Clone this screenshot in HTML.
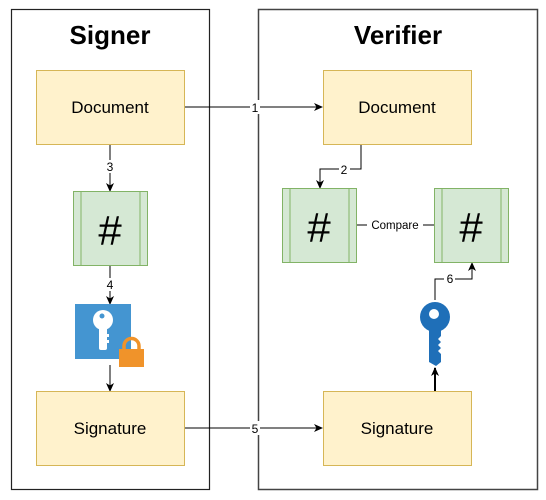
<!DOCTYPE html>
<html><head><style>
html,body{margin:0;padding:0;background:#fff;}
svg{display:block;font-family:"Liberation Sans",Arial,sans-serif;}
</style></head><body>
<svg width="546" height="500" viewBox="0 0 546 500" xmlns="http://www.w3.org/2000/svg">
<defs>
<marker id="a" markerWidth="10" markerHeight="10" refX="8" refY="5" orient="auto" markerUnits="userSpaceOnUse">
<path d="M0,1 L9,5 L0,9 L2.5,5 Z" fill="#000"/>
</marker>
</defs>
<rect x="11.5" y="9.5" width="198" height="480" fill="#fff" stroke="#222" stroke-width="1.2"/>
<rect x="258.5" y="9.5" width="279" height="480" fill="#fff" stroke="#444" stroke-width="1.5"/>
<text x="110" y="44" text-anchor="middle" font-size="26" font-weight="bold">Signer</text>
<text x="398" y="44" text-anchor="middle" font-size="26" font-weight="bold">Verifier</text>

<line x1="184" y1="107" x2="322" y2="107" stroke="#000" stroke-width="1" marker-end="url(#a)"/>
<rect x="250" y="100" width="10" height="14" fill="#fff"/>
<text x="255" y="112" text-anchor="middle" font-size="12">1</text>
<line x1="184" y1="428" x2="322" y2="428" stroke="#000" stroke-width="1" marker-end="url(#a)"/>
<rect x="250" y="421" width="10" height="14" fill="#fff"/>
<text x="255" y="433" text-anchor="middle" font-size="12">5</text>

<line x1="110" y1="144" x2="110" y2="191" stroke="#000" marker-end="url(#a)"/>
<rect x="104" y="160" width="12" height="13" fill="#fff"/>
<text x="110" y="171" text-anchor="middle" font-size="12">3</text>
<line x1="110" y1="265" x2="110" y2="304" stroke="#000" marker-end="url(#a)"/>
<rect x="104" y="278" width="12" height="13" fill="#fff"/>
<text x="110" y="289" text-anchor="middle" font-size="12">4</text>
<line x1="110" y1="365" x2="110" y2="391" stroke="#000" marker-end="url(#a)"/>

<polyline points="361,145 361,169 320,169 320,188" fill="none" stroke="#000" marker-end="url(#a)"/>
<rect x="339" y="163" width="11" height="13" fill="#fff"/>
<text x="344" y="174" text-anchor="middle" font-size="12">2</text>
<line x1="357" y1="225" x2="434" y2="225" stroke="#000"/>
<rect x="367" y="218" width="56" height="14" fill="#fff"/>
<text x="395" y="229" text-anchor="middle" font-size="11.5">Compare</text>
<polyline points="435,300 435,279 472,279 472,263" fill="none" stroke="#000" marker-end="url(#a)"/>
<rect x="444" y="272" width="11" height="13" fill="#fff"/>
<text x="450" y="283" text-anchor="middle" font-size="12">6</text>
<line x1="435" y1="391" x2="435" y2="368" stroke="#000" stroke-width="2" marker-end="url(#a)"/>

<rect x="36.5" y="70.5" width="148" height="74" fill="#fff2cc" stroke="#d6b656"/>
<text x="110" y="113" text-anchor="middle" font-size="17">Document</text>
<rect x="36.5" y="391.5" width="148" height="74" fill="#fff2cc" stroke="#d6b656"/>
<text x="110" y="434" text-anchor="middle" font-size="17">Signature</text>
<rect x="323.5" y="70.5" width="148" height="74" fill="#fff2cc" stroke="#d6b656"/>
<text x="397" y="113" text-anchor="middle" font-size="17">Document</text>
<rect x="323.5" y="391.5" width="148" height="74" fill="#fff2cc" stroke="#d6b656"/>
<text x="397" y="434" text-anchor="middle" font-size="17">Signature</text>

<g fill="#d5e8d4" stroke="#82b366">
<rect x="73.5" y="191.5" width="74" height="74"/><line x1="81" y1="192" x2="81" y2="265"/><line x1="140" y1="192" x2="140" y2="265"/>
<rect x="282.5" y="188.5" width="74" height="74"/><line x1="290" y1="189" x2="290" y2="262"/><line x1="349" y1="189" x2="349" y2="262"/>
<rect x="434.5" y="188.5" width="74" height="74"/><line x1="442" y1="189" x2="442" y2="262"/><line x1="501" y1="189" x2="501" y2="262"/>
</g>
<text x="110" y="245" text-anchor="middle" font-size="42">#</text>
<text x="319" y="242" text-anchor="middle" font-size="42">#</text>
<text x="471" y="242" text-anchor="middle" font-size="42">#</text>

<rect x="75" y="304" width="56" height="55" fill="#4495d1"/>
<circle cx="103" cy="320" r="10" fill="#fff"/>
<circle cx="102" cy="316" r="2.5" fill="#4495d1"/>
<rect x="99" y="326" width="8" height="24" rx="2" fill="#fff"/>
<rect x="106" y="334" width="3" height="3" fill="#fff"/><rect x="106" y="340" width="3" height="3" fill="#fff"/>
<path d="M124,350 v-4 a7.5,7.5 0 0 1 15,0 v4" fill="none" stroke="#f0932a" stroke-width="3.5"/>
<rect x="119" y="349" width="25" height="18" fill="#f0932a"/>

<circle cx="435" cy="317" r="15" fill="#1f6fb8"/>
<circle cx="434" cy="314" r="5" fill="#fff"/>
<path d="M429,328 h12 v8 l-3,3 l3,3 l-3,3 l3,3 l-3,3 l3,3 v8 l-5,4 l-7,-4 z" fill="#1f6fb8"/>
</svg>
</body></html>
